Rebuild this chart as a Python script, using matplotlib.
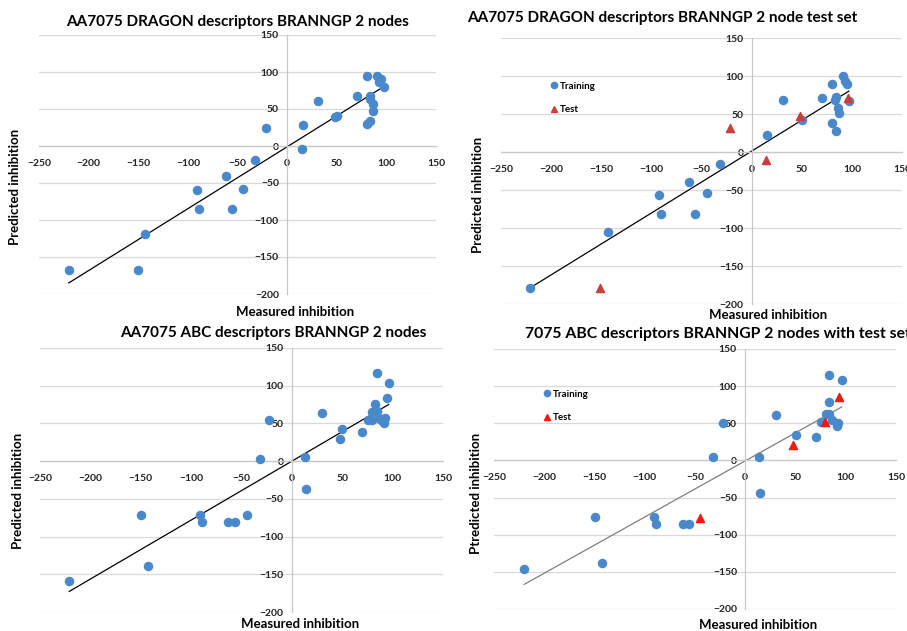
import numpy as np
import matplotlib
matplotlib.use("Agg")
import matplotlib.pyplot as plt
from matplotlib.lines import Line2D

plt.rcParams['font.family'] = ['Lato', 'DejaVu Sans']
plt.rcParams['font.weight'] = 'bold'

# --- data ---
# AA7075 DRAGON, all points
dragon_x = [-220, -150, -143, -91, -89, -62, -56, -44, -32, -21.5, 14.5, 15.5, 31.6, 48, 50,
            70.6, 80, 80, 84, 84, 83, 87, 87, 91, 93, 95, 97.5]
dragon_y = [-167, -167, -119, -60, -85, -41, -85, -58, -19, 25, -4, 28, 61, 39, 40,
            68, 94, 30, 34, 68, 63, 57, 47, 94, 87, 90, 80]
dragon_fit = (0.836, -1.1)

# AA7075 DRAGON, training / test split
dragon_tr_x = [-221, -143, -92, -90, -62, -56, -45, -32, 15, 31, 50, 70, 80, 80, 84, 84, 83,
               86, 87, 91, 93, 95, 97]
dragon_tr_y = [-179, -105, -57, -81, -40, -82, -54, -16, 22, 68, 42, 71, 90, 38, 27, 72, 69,
               58, 51, 100, 93, 89, 67]
dragon_te_x = [-151, -22, 14, 48, 96]
dragon_te_y = [-179, 32, -11, 48, 71]
dragon_split_fit = (0.814, 1.1)

# AA7075 ABC, all points
abc_x = [-221, -150, -143, -91.5, -89, -63, -56, -45, -32, -22.5, 13.5, 14.5, 30, 47.6, 49.6,
         70, 84, 83, 80, 84, 76, 80, 86, 88, 91, 92, 94, 96]
abc_y = [-159, -72, -139, -72, -81, -81, -81, -72, 3, 54, 6, -37, 64, 30, 42,
         38, 117, 76, 65, 66, 55, 55, 57, 55, 51, 57, 84, 104]
abc_fit = (0.7816, 0.0)

# 7075 ABC, training / test split
abc_tr_x = [-220, -150, -143, -91, -89, -62, -56, -32, -22.5, 14, 15, 31, 50, 70, 83, 83, 75,
            80, 83, 86, 91, 92, 96]
abc_tr_y = [-146, -76, -138, -76, -85, -85, -85, 4, 51, 4, -44, 61, 34, 31, 115, 78, 52,
            62, 63, 55, 46, 50, 108]
abc_te_x = [-45, 47.5, 79, 93]
abc_te_y = [-77, 21, 52, 86]
abc_split_fit = (0.756, -0.6)

xticks = list(range(-250, 151, 50))
yticks = list(range(-200, 151, 50))

W, H = 907, 631
fig = plt.figure(figsize=(W / 100, H / 100), dpi=100)

blue = '#4a88cc'


def px_axes(x0, y0, x1, y1):
    return fig.add_axes([x0 / W, 1 - y1 / H, (x1 - x0) / W, (y1 - y0) / H])


def ftext(x, y, s, **kw):
    fig.text(x / W, 1 - y / H, s, **kw)


def setup(ax):
    ax.set_xlim(-250, 150)
    ax.set_ylim(-200, 150)
    for s in ['top', 'right']:
        ax.spines[s].set_visible(False)
    ax.spines['left'].set_position(('data', 0))
    ax.spines['bottom'].set_position(('data', 0))
    for s in ['left', 'bottom']:
        ax.spines[s].set_color('#c8c8c8')
        ax.spines[s].set_linewidth(0.9)
    ax.set_xticks(xticks)
    ax.set_yticks(yticks)
    ax.tick_params(length=0, labelsize=7.5, colors='#222222', pad=6)
    ax.tick_params(axis='x', pad=9)
    ax.yaxis.grid(True, color='#d9d9d9', lw=0.9)
    ax.set_axisbelow(True)


def trend(ax, xs, fit, color):
    xr = np.array([min(xs), max(xs)])
    ax.plot(xr, fit[0] * xr + fit[1], color=color, lw=0.9, zorder=2)


# panel 1
ax1 = px_axes(39, 35, 436, 294)
setup(ax1)
ax1.scatter(dragon_x, dragon_y, s=34, color=blue, zorder=3)
trend(ax1, dragon_x, dragon_fit, 'black')
ftext(238, 22, 'AA7075 DRAGON descriptors BRANNGP 2 nodes', ha='center', va='center', fontsize=11)
ftext(295, 312, 'Measured inhibition', ha='center', va='center', fontsize=9.5)
ftext(15, 187, 'Predicted inhibition', ha='center', va='center', rotation=90, fontsize=9.5)

# panel 2
ax2 = px_axes(501, 38, 902, 304)
setup(ax2)
ax2.scatter(dragon_tr_x, dragon_tr_y, s=34, color=blue, zorder=3)
ax2.scatter(dragon_te_x, dragon_te_y, s=34, marker='^', color='#c8403a', zorder=3)
trend(ax2, dragon_tr_x, dragon_split_fit, 'black')
ftext(662, 18, 'AA7075 DRAGON descriptors BRANNGP 2 node test set', ha='center', va='center', fontsize=11)
ftext(768, 315, 'Measured inhibition', ha='center', va='center', fontsize=9.5)
ftext(478, 195, 'Predicted inhibition', ha='center', va='center', rotation=90, fontsize=9.5)
h2 = [Line2D([], [], ls='', marker='o', color=blue, ms=4.5),
      Line2D([], [], ls='', marker='^', color='#c8403a', ms=4.5)]
ax2.legend(h2, ['Training', 'Test'], loc='upper left', bbox_to_anchor=(547 / W, 1 - 77 / H),
           bbox_transform=fig.transFigure, frameon=False, fontsize=7, borderpad=0,
           handlelength=0.5, handletextpad=0.3, labelspacing=1.5)

# panel 3
ax3 = px_axes(40, 348, 443, 612)
setup(ax3)
ax3.scatter(abc_x, abc_y, s=34, color=blue, zorder=3)
trend(ax3, abc_x, abc_fit, 'black')
ftext(273, 333, 'AA7075 ABC descriptors BRANNGP 2 nodes', ha='center', va='center', fontsize=11)
ftext(300, 624, 'Measured inhibition', ha='center', va='center', fontsize=9.5)
ftext(18, 491, 'Predicted inhibition', ha='center', va='center', rotation=90, fontsize=9.5)

# panel 4
ax4 = px_axes(494, 349, 896, 609)
setup(ax4)
ax4.scatter(abc_tr_x, abc_tr_y, s=34, color=blue, zorder=3)
ax4.scatter(abc_te_x, abc_te_y, s=34, marker='^', color='#ee1c0e', zorder=3)
trend(ax4, abc_tr_x, abc_split_fit, '#7f7f7f')
ftext(525, 334, '7075 ABC descriptors BRANNGP 2 nodes with test set', ha='left', va='center', fontsize=11.3)
ftext(758, 625, 'Measured inhibition', ha='center', va='center', fontsize=9.5)
ftext(476, 493, 'Ptredicted inhibition', ha='center', va='center', rotation=90, fontsize=9.5)
h4 = [Line2D([], [], ls='', marker='o', color=blue, ms=4.5),
      Line2D([], [], ls='', marker='^', color='#ee1c0e', ms=4.5)]
ax4.legend(h4, ['Training', 'Test'], loc='upper left', bbox_to_anchor=(540 / W, 1 - 385 / H),
           bbox_transform=fig.transFigure, frameon=False, fontsize=7, borderpad=0,
           handlelength=0.5, handletextpad=0.3, labelspacing=1.5)

fig.savefig('out.png', dpi=100)
